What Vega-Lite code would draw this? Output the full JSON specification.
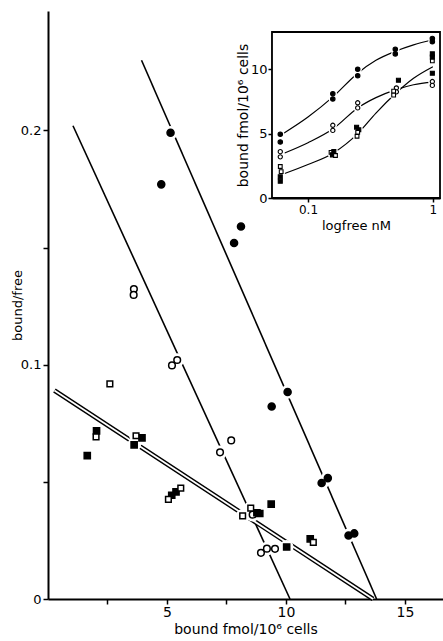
{
  "$schema": "https://vega.github.io/schema/vega-lite/v6.json",
  "width": 395,
  "height": 588,
  "autosize": {"type": "none"},
  "padding": {"left": 48, "top": 11, "right": 0, "bottom": 42},
  "background": "white",
  "config": {
    "view": {"stroke": null},
    "font": "DejaVu Sans",
    "axis": {
      "grid": false,
      "domainColor": "black",
      "tickColor": "black",
      "labelColor": "black",
      "titleColor": "black",
      "titleFontWeight": "normal",
      "zindex": 1
    }
  },
  "datasets": {
    "mainPoints": [
      {"series": "filled circle", "bx": 5.15, "bf": 0.199},
      {"series": "filled circle", "bx": 4.76, "bf": 0.177},
      {"series": "filled circle", "bx": 8.11, "bf": 0.159},
      {"series": "filled circle", "bx": 7.82, "bf": 0.152},
      {"series": "filled circle", "bx": 10.07, "bf": 0.0884},
      {"series": "filled circle", "bx": 9.40, "bf": 0.0822},
      {"series": "filled circle", "bx": 11.76, "bf": 0.0516},
      {"series": "filled circle", "bx": 11.50, "bf": 0.0495},
      {"series": "filled circle", "bx": 12.87, "bf": 0.028},
      {"series": "filled circle", "bx": 12.63, "bf": 0.0271},
      {"series": "open circle", "bx": 3.61, "bf": 0.1323},
      {"series": "open circle", "bx": 3.60, "bf": 0.1298},
      {"series": "open circle", "bx": 5.21, "bf": 0.0997},
      {"series": "open circle", "bx": 5.43, "bf": 0.102},
      {"series": "open circle", "bx": 7.23, "bf": 0.0626},
      {"series": "open circle", "bx": 7.70, "bf": 0.0677},
      {"series": "open circle", "bx": 8.6, "bf": 0.036},
      {"series": "open circle", "bx": 8.95, "bf": 0.0197},
      {"series": "open circle", "bx": 9.2, "bf": 0.0215},
      {"series": "open circle", "bx": 9.54, "bf": 0.0214},
      {"series": "filled square", "bx": 1.65, "bf": 0.0612},
      {"series": "filled square", "bx": 2.04, "bf": 0.0718},
      {"series": "filled square", "bx": 3.62, "bf": 0.0658},
      {"series": "filled square", "bx": 3.95, "bf": 0.0688},
      {"series": "filled square", "bx": 5.2, "bf": 0.0443},
      {"series": "filled square", "bx": 5.38, "bf": 0.0457},
      {"series": "filled square", "bx": 8.78, "bf": 0.0368},
      {"series": "filled square", "bx": 8.9, "bf": 0.0365},
      {"series": "filled square", "bx": 9.38, "bf": 0.0405},
      {"series": "filled square", "bx": 10.03, "bf": 0.0222},
      {"series": "filled square", "bx": 11.02, "bf": 0.0257},
      {"series": "open square", "bx": 2.6, "bf": 0.0918},
      {"series": "open square", "bx": 2.02, "bf": 0.0692},
      {"series": "open square", "bx": 3.7, "bf": 0.0697},
      {"series": "open square", "bx": 5.06, "bf": 0.0425},
      {"series": "open square", "bx": 5.58, "bf": 0.0473},
      {"series": "open square", "bx": 8.18, "bf": 0.0355},
      {"series": "open square", "bx": 8.52, "bf": 0.0388},
      {"series": "open square", "bx": 11.15, "bf": 0.0242}
    ],
    "mainLines": [
      {"line": "A", "bx": 3.93, "bf": 0.230},
      {"line": "A", "bx": 13.81, "bf": 0},
      {"line": "B", "bx": 1.05, "bf": 0.202},
      {"line": "B", "bx": 10.17, "bf": 0},
      {"line": "C", "bx": 0.27, "bf": 0.0890},
      {"line": "C", "bx": 13.66, "bf": 0}
    ],
    "insetPoints": [
      {"series": "filled circle", "lf": 0.06, "lb": 4.95},
      {"series": "filled circle", "lf": 0.06, "lb": 4.35},
      {"series": "open circle", "lf": 0.06, "lb": 3.6},
      {"series": "open circle", "lf": 0.06, "lb": 3.2},
      {"series": "open square", "lf": 0.06, "lb": 2.45},
      {"series": "open square", "lf": 0.061, "lb": 2.05},
      {"series": "filled square", "lf": 0.06, "lb": 1.65},
      {"series": "filled square", "lf": 0.06, "lb": 1.3},
      {"series": "filled circle", "lf": 0.158, "lb": 8.1},
      {"series": "filled circle", "lf": 0.158, "lb": 7.7},
      {"series": "open circle", "lf": 0.158, "lb": 5.65},
      {"series": "open circle", "lf": 0.158, "lb": 5.25},
      {"series": "open square", "lf": 0.153, "lb": 3.55},
      {"series": "filled square", "lf": 0.161, "lb": 3.6},
      {"series": "filled square", "lf": 0.157, "lb": 3.35},
      {"series": "open square", "lf": 0.166, "lb": 3.3},
      {"series": "filled circle", "lf": 0.25, "lb": 10.0},
      {"series": "filled circle", "lf": 0.25, "lb": 9.5},
      {"series": "open circle", "lf": 0.25, "lb": 7.4},
      {"series": "open circle", "lf": 0.25, "lb": 7.0},
      {"series": "filled square", "lf": 0.245, "lb": 5.5},
      {"series": "filled square", "lf": 0.255, "lb": 5.3},
      {"series": "open square", "lf": 0.25, "lb": 5.1},
      {"series": "open square", "lf": 0.247, "lb": 4.8},
      {"series": "filled circle", "lf": 0.5, "lb": 11.55},
      {"series": "filled circle", "lf": 0.5, "lb": 11.2},
      {"series": "filled square", "lf": 0.53, "lb": 9.15},
      {"series": "open circle", "lf": 0.51, "lb": 8.55},
      {"series": "open circle", "lf": 0.51, "lb": 8.25},
      {"series": "open square", "lf": 0.485, "lb": 8.3},
      {"series": "open square", "lf": 0.485, "lb": 8.0},
      {"series": "filled circle", "lf": 0.99, "lb": 12.4},
      {"series": "filled circle", "lf": 0.99, "lb": 12.15},
      {"series": "filled square", "lf": 0.99, "lb": 11.2},
      {"series": "filled square", "lf": 0.99, "lb": 10.95},
      {"series": "open square", "lf": 0.99, "lb": 10.65},
      {"series": "filled square", "lf": 0.99, "lb": 9.7},
      {"series": "open circle", "lf": 0.99, "lb": 9.05},
      {"series": "open circle", "lf": 0.99, "lb": 8.75}
    ],
    "insetCurves": [
      {"curve": "A", "lf": 0.063, "lb": 5.0},
      {"curve": "A", "lf": 0.1, "lb": 6.3},
      {"curve": "A", "lf": 0.16, "lb": 7.9},
      {"curve": "A", "lf": 0.25, "lb": 9.7},
      {"curve": "A", "lf": 0.35, "lb": 10.7},
      {"curve": "A", "lf": 0.5, "lb": 11.4},
      {"curve": "A", "lf": 0.7, "lb": 11.9},
      {"curve": "A", "lf": 1.0, "lb": 12.3},
      {"curve": "B", "lf": 0.065, "lb": 3.5},
      {"curve": "B", "lf": 0.1, "lb": 4.3},
      {"curve": "B", "lf": 0.16, "lb": 5.4},
      {"curve": "B", "lf": 0.25, "lb": 7.0},
      {"curve": "B", "lf": 0.35, "lb": 7.8},
      {"curve": "B", "lf": 0.5, "lb": 8.4},
      {"curve": "B", "lf": 0.7, "lb": 8.8},
      {"curve": "B", "lf": 1.0, "lb": 9.0},
      {"curve": "C", "lf": 0.065, "lb": 1.9},
      {"curve": "C", "lf": 0.1, "lb": 2.6},
      {"curve": "C", "lf": 0.16, "lb": 3.5},
      {"curve": "C", "lf": 0.25, "lb": 5.0},
      {"curve": "C", "lf": 0.35, "lb": 6.6},
      {"curve": "C", "lf": 0.5, "lb": 8.1},
      {"curve": "C", "lf": 0.7, "lb": 9.3},
      {"curve": "C", "lf": 1.0, "lb": 10.2}
    ]
  },
  "layer": [
    {
      "layer": [
        {
          "data": {"name": "mainLines"},
          "transform": [{"filter": "datum.line != 'C'"}],
          "mark": {"type": "line", "stroke": "black", "strokeWidth": 1.6},
          "encoding": {
            "x": {
              "field": "bx", "type": "quantitative",
              "scale": {"domain": [0, 16.6], "nice": false, "zero": false},
              "axis": {
                "values": [2.5, 5, 7.5, 10, 12.5, 15],
                "labelExpr": "datum.value % 5 == 0 ? datum.label : ''",
                "title": "bound fmol/10⁶ cells",
                "tickSize": 5, "tickWidth": 1.5, "domainWidth": 1.8,
                "labelFontSize": 14, "titleFontSize": 14,
                "labelPadding": 1, "titlePadding": 3
              }
            },
            "y": {
              "field": "bf", "type": "quantitative",
              "scale": {"domain": [0, 0.251], "nice": false},
              "axis": {
                "values": [0, 0.05, 0.1, 0.15, 0.2],
                "labelExpr": "datum.value == 0 ? '0' : (datum.value == 0.1 ? '0.1' : (datum.value == 0.2 ? '0.2' : ''))",
                "title": "bound/free",
                "tickSize": 5, "tickWidth": 1.5, "domainWidth": 2,
                "labelFontSize": 13, "titleFontSize": 13,
                "labelPadding": 2, "titlePadding": -4
              }
            },
            "detail": {"field": "line"}
          }
        },
        {
          "data": {"name": "mainLines"},
          "transform": [{"filter": "datum.line == 'C'"}],
          "mark": {"type": "line", "stroke": "black", "strokeWidth": 4.6},
          "encoding": {
            "x": {"field": "bx", "type": "quantitative"},
            "y": {"field": "bf", "type": "quantitative"}
          }
        },
        {
          "data": {"name": "mainLines"},
          "transform": [{"filter": "datum.line == 'C'"}],
          "mark": {"type": "line", "stroke": "white", "strokeWidth": 1.8},
          "encoding": {
            "x": {"field": "bx", "type": "quantitative"},
            "y": {"field": "bf", "type": "quantitative"}
          }
        },
        {
          "data": {"name": "mainPoints"},
          "mark": {"type": "point", "shape": "circle", "filled": true, "fill": "white", "opacity": 1, "size": 190},
          "encoding": {
            "x": {"field": "bx", "type": "quantitative"},
            "y": {"field": "bf", "type": "quantitative"}
          }
        },
        {
          "data": {"name": "mainPoints"},
          "mark": {"type": "point", "filled": true, "stroke": "black", "strokeWidth": 1.5, "opacity": 1},
          "encoding": {
            "x": {"field": "bx", "type": "quantitative"},
            "y": {"field": "bf", "type": "quantitative"},
            "shape": {"field": "series", "type": "nominal", "legend": null,
              "scale": {"domain": ["filled circle", "open circle", "filled square", "open square"], "range": ["circle", "circle", "square", "square"]}},
            "fill": {"field": "series", "type": "nominal", "legend": null,
              "scale": {"domain": ["filled circle", "open circle", "filled square", "open square"], "range": ["black", "white", "black", "white"]}},
            "size": {"field": "series", "type": "nominal", "legend": null,
              "scale": {"domain": ["filled circle", "open circle", "filled square", "open square"], "range": [50, 32, 44, 40]}}
          }
        }
      ]
    },
    {
      "layer": [
        {
          "data": {"values": [{}]},
          "mark": {"type": "rect", "fill": "white", "stroke": "black", "strokeWidth": 1.8},
          "encoding": {
            "x": {
              "datum": 0.0515, "type": "quantitative",
              "scale": {"type": "log", "domain": [0.0515, 1.14], "range": [224, 392], "nice": false},
              "axis": {
                "orient": "bottom", "offset": -401,
                "values": [0.1, 1], "format": "~g",
                "title": "logfree nM",
                "tickSize": 4, "tickWidth": 1.5, "domainWidth": 1.8,
                "labelFontSize": 12, "titleFontSize": 13,
                "labelPadding": 2, "titlePadding": 4
              }
            },
            "x2": {"datum": 1.14},
            "y": {
              "datum": 0, "type": "quantitative",
              "scale": {"domain": [0, 12.9], "range": [187, 21], "nice": false, "zero": false},
              "axis": {
                "orient": "left", "offset": -224,
                "values": [0, 5, 10],
                "title": "bound fmol/10⁶ cells",
                "tickSize": 4, "tickWidth": 1.5, "domainWidth": 1.8,
                "labelFontSize": 13, "titleFontSize": 14,
                "labelPadding": 1, "titlePadding": 0
              }
            },
            "y2": {"datum": 12.9}
          }
        },
        {
          "data": {"name": "insetCurves"},
          "mark": {"type": "line", "stroke": "black", "strokeWidth": 1.2, "interpolate": "monotone"},
          "encoding": {
            "x": {"field": "lf", "type": "quantitative"},
            "y": {"field": "lb", "type": "quantitative"},
            "detail": {"field": "curve"}
          }
        },
        {
          "data": {"name": "insetPoints"},
          "mark": {"type": "point", "shape": "circle", "filled": true, "fill": "white", "opacity": 1, "size": 70},
          "encoding": {
            "x": {"field": "lf", "type": "quantitative"},
            "y": {"field": "lb", "type": "quantitative"}
          }
        },
        {
          "data": {"name": "insetPoints"},
          "mark": {"type": "point", "filled": true, "stroke": "black", "strokeWidth": 1.1, "opacity": 1},
          "encoding": {
            "x": {"field": "lf", "type": "quantitative"},
            "y": {"field": "lb", "type": "quantitative"},
            "shape": {"field": "series", "type": "nominal", "legend": null,
              "scale": {"domain": ["filled circle", "open circle", "filled square", "open square"], "range": ["circle", "circle", "square", "square"]}},
            "fill": {"field": "series", "type": "nominal", "legend": null,
              "scale": {"domain": ["filled circle", "open circle", "filled square", "open square"], "range": ["black", "white", "black", "white"]}},
            "size": {"field": "series", "type": "nominal", "legend": null,
              "scale": {"domain": ["filled circle", "open circle", "filled square", "open square"], "range": [20, 14, 20, 16]}}
          }
        }
      ]
    }
  ],
  "resolve": {
    "scale": {"x": "independent", "y": "independent", "size": "independent"},
    "axis": {"x": "independent", "y": "independent"}
  }
}
